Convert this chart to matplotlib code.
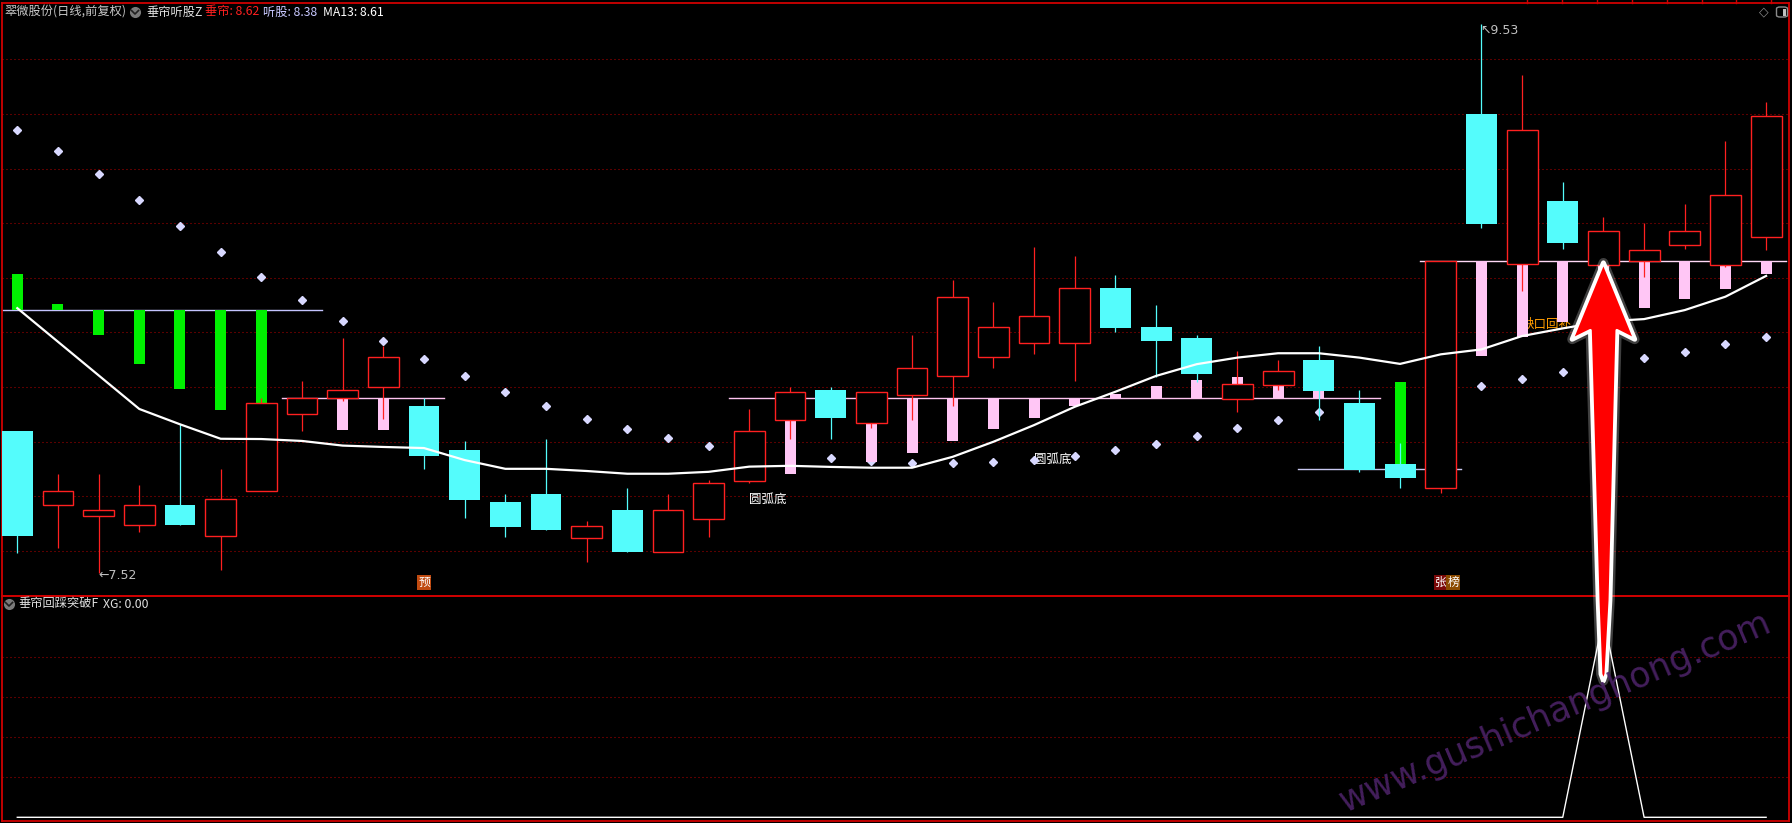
import numpy as np
import matplotlib
matplotlib.use('Agg')
import matplotlib.pyplot as plt
from matplotlib.patches import Rectangle, Polygon, FancyBboxPatch
from matplotlib.lines import Line2D
import matplotlib.patheffects as pe
import matplotlib.transforms as mtransforms

plt.rcParams['font.family'] = ['Noto Sans CJK SC', 'DejaVu Sans']
plt.rcParams['lines.scale_dashes'] = False

# ---------------- data ----------------
opens = [8.039, 7.768, 7.727, 7.697, 7.769, 7.656, 7.819, 8.101, 8.159, 8.199,
         8.131, 7.970, 7.780, 7.809, 7.649, 7.750, 7.598, 7.718, 7.858, 8.079,
         8.190, 8.068, 8.170, 8.240, 8.309, 8.360, 8.360, 8.562, 8.420, 8.380,
         8.158, 8.209, 8.299, 8.142, 7.919, 7.829, 9.200, 8.649, 8.881, 8.648,
         8.660, 8.719, 8.648, 8.751]
highs = [8.039, 7.882, 7.882, 7.842, 8.064, 7.900, 8.160, 8.222, 8.379, 8.351,
         8.159, 8.004, 7.809, 8.010, 7.710, 7.831, 7.810, 7.860, 8.120, 8.200,
         8.199, 8.181, 8.390, 8.592, 8.512, 8.713, 8.680, 8.610, 8.500, 8.390,
         8.332, 8.299, 8.350, 8.190, 7.997, 8.661, 9.530, 9.341, 8.951, 8.822,
         8.800, 8.870, 9.100, 9.244]
lows = [7.592, 7.612, 7.520, 7.671, 7.694, 7.530, 7.819, 8.039, 8.150, 8.082,
        7.900, 7.722, 7.651, 7.677, 7.561, 7.597, 7.598, 7.651, 7.850, 8.011,
        8.010, 8.052, 8.081, 8.132, 8.271, 8.322, 8.224, 8.403, 8.238, 8.220,
        8.110, 8.190, 8.080, 7.890, 7.832, 7.812, 8.784, 8.553, 8.705, 8.648,
        8.603, 8.705, 8.641, 8.702]
closes = [7.656, 7.820, 7.749, 7.768, 7.697, 7.791, 8.141, 8.159, 8.188, 8.309,
          7.949, 7.787, 7.688, 7.677, 7.691, 7.597, 7.749, 7.848, 8.038, 8.181,
          8.088, 8.181, 8.269, 8.529, 8.419, 8.459, 8.562, 8.418, 8.370, 8.248,
          8.210, 8.258, 8.186, 7.897, 7.868, 8.661, 8.798, 9.140, 8.729, 8.770,
          8.701, 8.770, 8.902, 9.191]

ma13 = [8.489, 8.366, 8.243, 8.120, 8.064, 8.011, 8.010, 8.003, 7.986, 7.981,
        7.977, 7.933, 7.901, 7.901, 7.893, 7.883, 7.883, 7.890, 7.909, 7.912,
        7.908, 7.905, 7.905, 7.945, 8.000, 8.061, 8.128, 8.183, 8.241, 8.284,
        8.308, 8.324, 8.324, 8.308, 8.285, 8.320, 8.338, 8.387, 8.415, 8.440,
        8.449, 8.482, 8.531, 8.607]

nan = np.nan
tingu = [9.141, 9.064, 8.980, 8.885, 8.790, 8.695, 8.603, 8.519, 8.442, 8.369,
         8.303, 8.242, 8.182, 8.132, 8.083, 8.047, 8.015, 7.985, 7.963, 7.948,
         7.941, 7.930, 7.923, 7.923, 7.927, 7.933, 7.948, 7.970, 7.993, 8.022,
         8.052, 8.080, 8.109, nan, nan, nan, 8.204, 8.230, 8.255, 8.281,
         8.308, 8.330, 8.358, 8.383]

# 垂帘 reference segments: start idx, end idx, level
seg_start = [0, 7, 18, 32, 35]
seg_end = [7, 10, 33, 35, 43]
seg_level = [8.482, 8.159, 8.159, 7.899, 8.661]
seg_color = ['#c4c4ff', '#ffc4f0', '#ffc4f0', '#c8c8f0', '#ffd8f6']

green_idx = [0, 1, 2, 3, 4, 5, 6, 34]
green_seg = [0, 0, 0, 0, 0, 0, 0, 3]
green_end = [8.614, 8.504, 8.391, 8.285, 8.193, 8.117, 8.143, 8.219]

pink_idx = [8, 9, 19, 21, 22, 23, 24, 25, 26, 27, 28, 29, 30, 31, 32,
            36, 37, 38, 39, 40, 41, 42, 43]
pink_seg = [1, 1, 2, 2, 2, 2, 2, 2, 2, 2, 2, 2, 2, 2, 2,
            4, 4, 4, 4, 4, 4, 4, 4]
pink_end = [8.044, 8.044, 7.882, 7.927, 7.960, 8.004, 8.047, 8.088, 8.132, 8.175,
            8.204, 8.226, 8.237, 8.210, 8.186,
            8.314, 8.382, 8.440, 8.409, 8.491, 8.524, 8.560, 8.615]

xg = [0] * 39 + [1] + [0] * 4

grid_top = [7.6, 7.8, 8.0, 8.2, 8.4, 8.6, 8.8, 9.0, 9.2, 9.4]
grid_bot = [0.2, 0.4, 0.6, 0.8]

# ---------------- figure ----------------
W, H = 1792, 823
fig = plt.figure(figsize=(W / 100, H / 100), dpi=100, facecolor='black')


def fx(x):
    return x / W


def fy(y):
    return 1 - y / H


ax = fig.add_axes([fx(2), fy(596), fx(1789) - fx(2), fy(2.7) - fy(596)])
ax2 = fig.add_axes([fx(2), fy(821), fx(1789) - fx(2), fy(596) - fy(821)])
BORDER = '#d00000'
for a in (ax, ax2):
    a.set_facecolor('none')
    a.set_xticks([])
    a.set_yticks([])
    for s in a.spines.values():
        s.set_color(BORDER)
        s.set_linewidth(1.3)
    a.set_xlim(-0.376, 43.563)
ax.set_ylim(7.4355, 9.607)
ax2.set_ylim(-0.0185, 1.105)

GRID = dict(color='#b40000', lw=0.75, ls=(0, (0.72, 2.16)), zorder=0.5)
for g in grid_top:
    ax.axhline(g, **GRID)
for g in grid_bot:
    ax2.axhline(g, **GRID)

RED = '#ff2020'
CYAN = '#54fcfc'
GREEN = '#00f000'
PINK = '#ffc6f5'

# segment lines
for s, e, lv, c in zip(seg_start, seg_end, seg_level, seg_color):
    ax.plot([s - 0.5, e + 0.5], [lv, lv], color=c, lw=1.0, zorder=1)

# dots (听股)
ax.plot(range(len(tingu)), tingu, ls='none', marker='D', ms=4.2,
        color='#d8d8ff', mec='#d8d8ff', zorder=2)

# bars (垂帘)
BW = 0.27
for i, sg, v in zip(green_idx, green_seg, green_end):
    base = seg_level[sg]
    ax.add_patch(Rectangle((i - BW / 2, min(base, v)), BW, abs(v - base),
                           facecolor=GREEN, edgecolor='none', zorder=3))
for i, sg, v in zip(pink_idx, pink_seg, pink_end):
    base = seg_level[sg]
    ax.add_patch(Rectangle((i - BW / 2, min(base, v)), BW, abs(v - base),
                           facecolor=PINK, edgecolor='none', zorder=3))

# candles
CW = 0.76
for i, (o, h, l, c) in enumerate(zip(opens, highs, lows, closes)):
    up = c >= o
    col = RED if up else CYAN
    ax.plot([i, i], [l, h], color=col, lw=0.9, zorder=3.9, solid_capstyle='butt')
    lo, hi = min(o, c), max(o, c)
    if up:
        ax.add_patch(Rectangle((i - CW / 2, lo), CW, hi - lo, facecolor='black',
                               edgecolor=RED, lw=1.0, zorder=4))
    else:
        ax.add_patch(Rectangle((i - CW / 2, lo), CW, hi - lo, facecolor=CYAN,
                               edgecolor='none', zorder=4))

# MA13
ax.plot(range(len(ma13)), ma13, color='white', lw=1.6, zorder=5)

# labels in chart
ilow = int(np.argmin(lows))
ax.annotate('←' + f'{lows[ilow]:.2f}', (ilow, lows[ilow]), xytext=(0, -2),
            textcoords='offset points', ha='left', va='center', color='#c0c0c0',
            fontsize=9, family=['DejaVu Sans'], zorder=6)
ihigh = int(np.argmax(highs))
ax.annotate('↖' + f'{highs[ihigh]:.2f}', (ihigh, highs[ihigh]), xytext=(-1, 0),
            textcoords='offset points', ha='left', va='top', color='#c0c0c0',
            fontsize=9, family=['DejaVu Sans'], zorder=6)
ax.text(18, 7.79, '圆弧底', color='white', fontsize=9, ha='left', va='center', zorder=6)
ax.text(25, 7.935, '圆弧底', color='white', fontsize=9, ha='left', va='center', zorder=1.8)
ax.text(37, 8.431, '缺口回补', color='#ff9c00', fontsize=9, ha='left', va='center', zorder=2.5)

trans_tag = mtransforms.blended_transform_factory(ax.transData, ax.transAxes)
ax.text(10, 0.012, '预', color='white', fontsize=8.5, ha='center', va='bottom',
        transform=trans_tag, zorder=6,
        bbox=dict(boxstyle='square,pad=0.1', fc='#c04a10', ec='none'))
ax.text(35, 0.012, '张', color='white', fontsize=8.5, ha='center', va='bottom',
        transform=trans_tag, zorder=6,
        bbox=dict(boxstyle='square,pad=0.1', fc='#7a0808', ec='none'))
ax.text(35.31, 0.012, '榜', color='white', fontsize=8.5, ha='center', va='bottom',
        transform=trans_tag, zorder=6,
        bbox=dict(boxstyle='square,pad=0.1', fc='#8b4a00', ec='none'))

# bottom panel XG
ax2.plot(range(len(xg)), xg, color='white', lw=1.0, zorder=3)

# big red arrow pointing at the XG signal
ai = int(np.argmax(xg))
tip = seg_level[4] - 0.006
arrow_pts = [(ai, tip), (ai + 0.77, tip - 0.28), (ai + 0.33, tip - 0.247),
             (ai + 0.16, 7.42), (ai + 0.06, 7.15), (ai, 7.125), (ai - 0.06, 7.15),
             (ai - 0.13, 7.42), (ai - 0.32, tip - 0.247), (ai - 0.77, tip - 0.28)]
arrow = Polygon(arrow_pts, closed=True, facecolor='#ff0000', edgecolor='white',
                lw=2.0, transform=ax.transData, zorder=10, joinstyle='round')
arrow.set_path_effects([pe.withStroke(linewidth=7, foreground=(1, 1, 1, 0.25)),
                        pe.withStroke(linewidth=3.5, foreground='white'),
                        pe.Normal()])
fig.add_artist(arrow)

# header texts
hy = fy(12)
fig.text(fx(4), hy, '翠微股份(日线,前复权)', color='#c8c8c8', fontsize=8.8, va='center')
fig.add_artist(Line2D([fx(135)], [hy], marker='o', ms=8, color='#7a7a7a', mec='none'))
fig.add_artist(Line2D([fx(131.5), fx(135), fx(138.5)], [fy(10.5), fy(14), fy(10.5)],
                      color='#202020', lw=1.2))
fig.text(fx(146), hy, '垂帘听股Z', color='#e0e0e0', fontsize=8.8, va='center')
fig.text(fx(205), hy, f'垂帘: {pink_end[-1]:.2f}', color='#ff2020', fontsize=8.8, va='center')
fig.text(fx(263), hy, f'听股: {tingu[-1]:.2f}', color='#c8c8ff', fontsize=8.8, va='center')
fig.text(fx(323), hy, f'MA13: {ma13[-1]:.2f}', color='white', fontsize=8.8, va='center')

by = fy(604)
fig.add_artist(Line2D([fx(9)], [by], marker='o', ms=8, color='#7a7a7a', mec='none'))
fig.add_artist(Line2D([fx(5.5), fx(9), fx(12.5)], [fy(602.5), fy(606), fy(602.5)],
                      color='#202020', lw=1.2))
fig.text(fx(18), by, '垂帘回踩突破F', color='#e0e0e0', fontsize=8.8, va='center')
fig.text(fx(103), by, f'XG: {xg[-1]:.2f}', color='#e0e0e0', fontsize=8.8, va='center')

# top-right icons
fig.text(fx(1763.5), fy(12), '◇', color='#8a8a8a', fontsize=9, ha='center', va='center',
         family=['DejaVu Sans'])
fig.add_artist(FancyBboxPatch((fx(1776.5), fy(17)), fx(11), 10 / H,
                              boxstyle='round,pad=0,rounding_size=0.002',
                              fc='none', ec='#8a8a8a', lw=1.0))
fig.add_artist(Rectangle((fx(1783), fy(15.5)), fx(3), 7 / H, fc='#c0c0c0', ec='none'))

# small ticks on the top border
for tx in np.arange(1527, 1790, 34.9):
    fig.add_artist(Line2D([fx(tx), fx(tx)], [fy(0), fy(2.7)], color=BORDER, lw=1.0))

# watermark
fig.text(fx(1555), fy(712), 'www.gushichanghong.com', color='#4b2266', fontsize=25,
         rotation=23, ha='center', va='center', family=['DejaVu Sans'], zorder=20,
         alpha=0.9)

fig.savefig('out.png', dpi=100, facecolor='black')
